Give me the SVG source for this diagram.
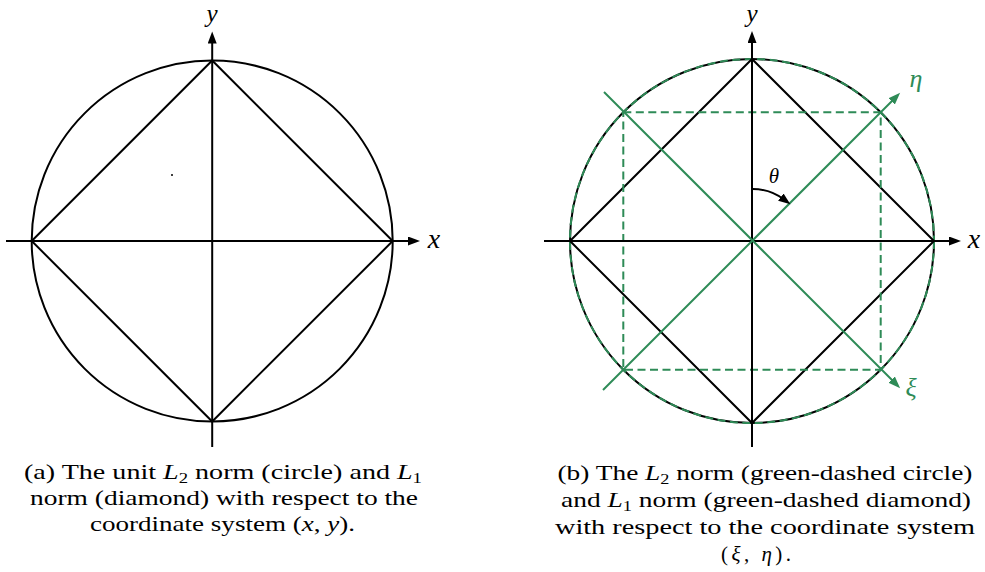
<svg xmlns="http://www.w3.org/2000/svg" width="985" height="572" viewBox="0 0 985 572">
<style>
.k{fill:none;stroke:#000;stroke-width:2}
.g{fill:none;stroke:#2e8b57;stroke-width:2}
.gd{fill:none;stroke:#2e8b57;stroke-width:2;stroke-dasharray:8 4.5}
.lab{font-family:"Liberation Serif",serif;font-style:italic;font-size:28px;fill:#000;text-anchor:middle}
.glab{font-family:"Liberation Serif",serif;font-style:italic;font-size:26px;fill:#2e8b57;text-anchor:middle}
.cap{font-family:"Liberation Serif",serif;font-size:21px;fill:#000;text-anchor:middle}
.i{font-style:italic}
</style>
<defs>
<marker id="ak" markerUnits="userSpaceOnUse" markerWidth="14" markerHeight="10" refX="4" refY="4.5" orient="auto" viewBox="0 0 14 10">
<path d="M0,0 L12,4.5 L0,9 Z" fill="#000"/>
</marker>
<marker id="ag" markerUnits="userSpaceOnUse" markerWidth="14" markerHeight="10" refX="4" refY="4.5" orient="auto" viewBox="0 0 14 10">
<path d="M0,0 L12,4.5 L0,9 Z" fill="#2e8b57"/>
</marker>
</defs>
<rect width="985" height="572" fill="#fff"/>

<g id="fig-a">
<circle class="k" cx="212.2" cy="241" r="180.5"/>
<polygon class="k" points="31.7,241 212.2,60.5 392.7,241 212.2,421.5"/>
<line class="k" x1="6" y1="241" x2="412" y2="241" marker-end="url(#ak)"/>
<line class="k" x1="212.2" y1="447" x2="212.2" y2="39.5" marker-end="url(#ak)"/>
<circle cx="172" cy="175" r="1" fill="#000"/>
<text class="lab" x="434" y="248">x</text>
<text class="lab" x="212" y="22" style="font-size:25px">y</text>
</g>

<g id="fig-b">
<circle class="k" cx="752" cy="241" r="182"/>
<circle class="gd" cx="752" cy="241" r="182"/>
<polygon class="k" points="570,241 752,59 934,241 752,423"/>
<rect class="gd" x="623.3" y="112.3" width="257.4" height="257.4"/>
<line class="k" x1="544" y1="241" x2="953" y2="241" marker-end="url(#ak)"/>
<line class="k" x1="752" y1="447" x2="752" y2="39" marker-end="url(#ak)"/>
<line class="g" x1="603" y1="390" x2="894.5" y2="98.5" marker-end="url(#ag)"/>
<line class="g" x1="604" y1="92" x2="894.5" y2="382.5" marker-end="url(#ag)"/>
<path class="k" d="M752,189 A52,52 0 0 1 784,199.5" marker-end="url(#ak)"/>
<text class="lab" x="974" y="248">x</text>
<text class="lab" x="752" y="22" style="font-size:25px">y</text>
<text class="lab" x="774" y="183" style="font-size:21px">θ</text>
<text class="glab" x="916" y="87">η</text>
<text class="glab" x="911" y="396">ξ</text>
</g>

<g id="caption-a" class="cap">
<text x="223" y="479" textLength="398" lengthAdjust="spacingAndGlyphs">(a) The unit <tspan class="i">L</tspan><tspan font-size="14" dy="4">2</tspan><tspan dy="-4"> norm (circle) and </tspan><tspan class="i">L</tspan><tspan font-size="14" dy="4">1</tspan></text>
<text x="224" y="505" textLength="388" lengthAdjust="spacingAndGlyphs">norm (diamond) with respect to the</text>
<text x="222.5" y="531" textLength="265" lengthAdjust="spacingAndGlyphs">coordinate system (<tspan class="i">x</tspan>, <tspan class="i">y</tspan>).</text>
</g>

<g id="caption-b" class="cap">
<text x="765" y="480" textLength="415" lengthAdjust="spacingAndGlyphs">(b) The <tspan class="i">L</tspan><tspan font-size="14" dy="4">2</tspan><tspan dy="-4"> norm (green-dashed circle)</tspan></text>
<text x="766" y="507" textLength="410" lengthAdjust="spacingAndGlyphs">and <tspan class="i">L</tspan><tspan font-size="14" dy="4">1</tspan><tspan dy="-4"> norm (green-dashed diamond)</tspan></text>
<text x="765" y="534" textLength="420" lengthAdjust="spacingAndGlyphs">with respect to the coordinate system</text>
<text x="756" y="561" textLength="70" lengthAdjust="spacing">(<tspan class="i">ξ</tspan>, <tspan class="i">η</tspan>).</text>
</g>
</svg>
